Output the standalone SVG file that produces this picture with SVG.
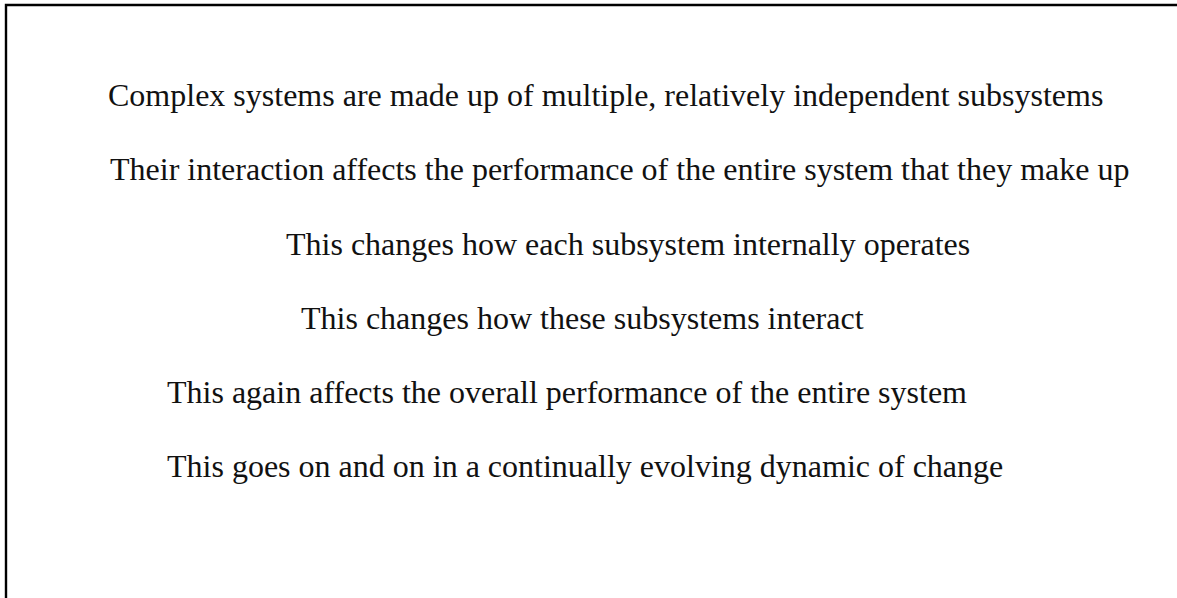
<svg xmlns="http://www.w3.org/2000/svg" width="1177" height="598" viewBox="0 0 1177 598">
  <style>
    .t { font-family: "Liberation Serif", "Times New Roman", serif; font-size: 32px; fill: #111; }
    .frame { fill: none; stroke: #000; stroke-width: 2.4; }
  </style>
  <rect width="1177" height="598" fill="#fff"/>
  <path class="frame" d="M6,600 L6,5 L1180,5"/>
  <g id="line1"><text class="t" x="108" y="106">Complex systems are made up of multiple, relatively independent subsystems</text></g>
  <g id="line2"><text class="t" x="110" y="180">Their interaction affects the performance of the entire system that they make up</text></g>
  <g id="line3"><text class="t" x="286" y="255">This changes how each subsystem internally operates</text></g>
  <g id="line4"><text class="t" x="301" y="329">This changes how these subsystems interact</text></g>
  <g id="line5"><text class="t" x="167" y="403">This again affects the overall performance of the entire system</text></g>
  <g id="line6"><text class="t" x="167" y="477">This goes on and on in a continually evolving dynamic of change</text></g>
</svg>
